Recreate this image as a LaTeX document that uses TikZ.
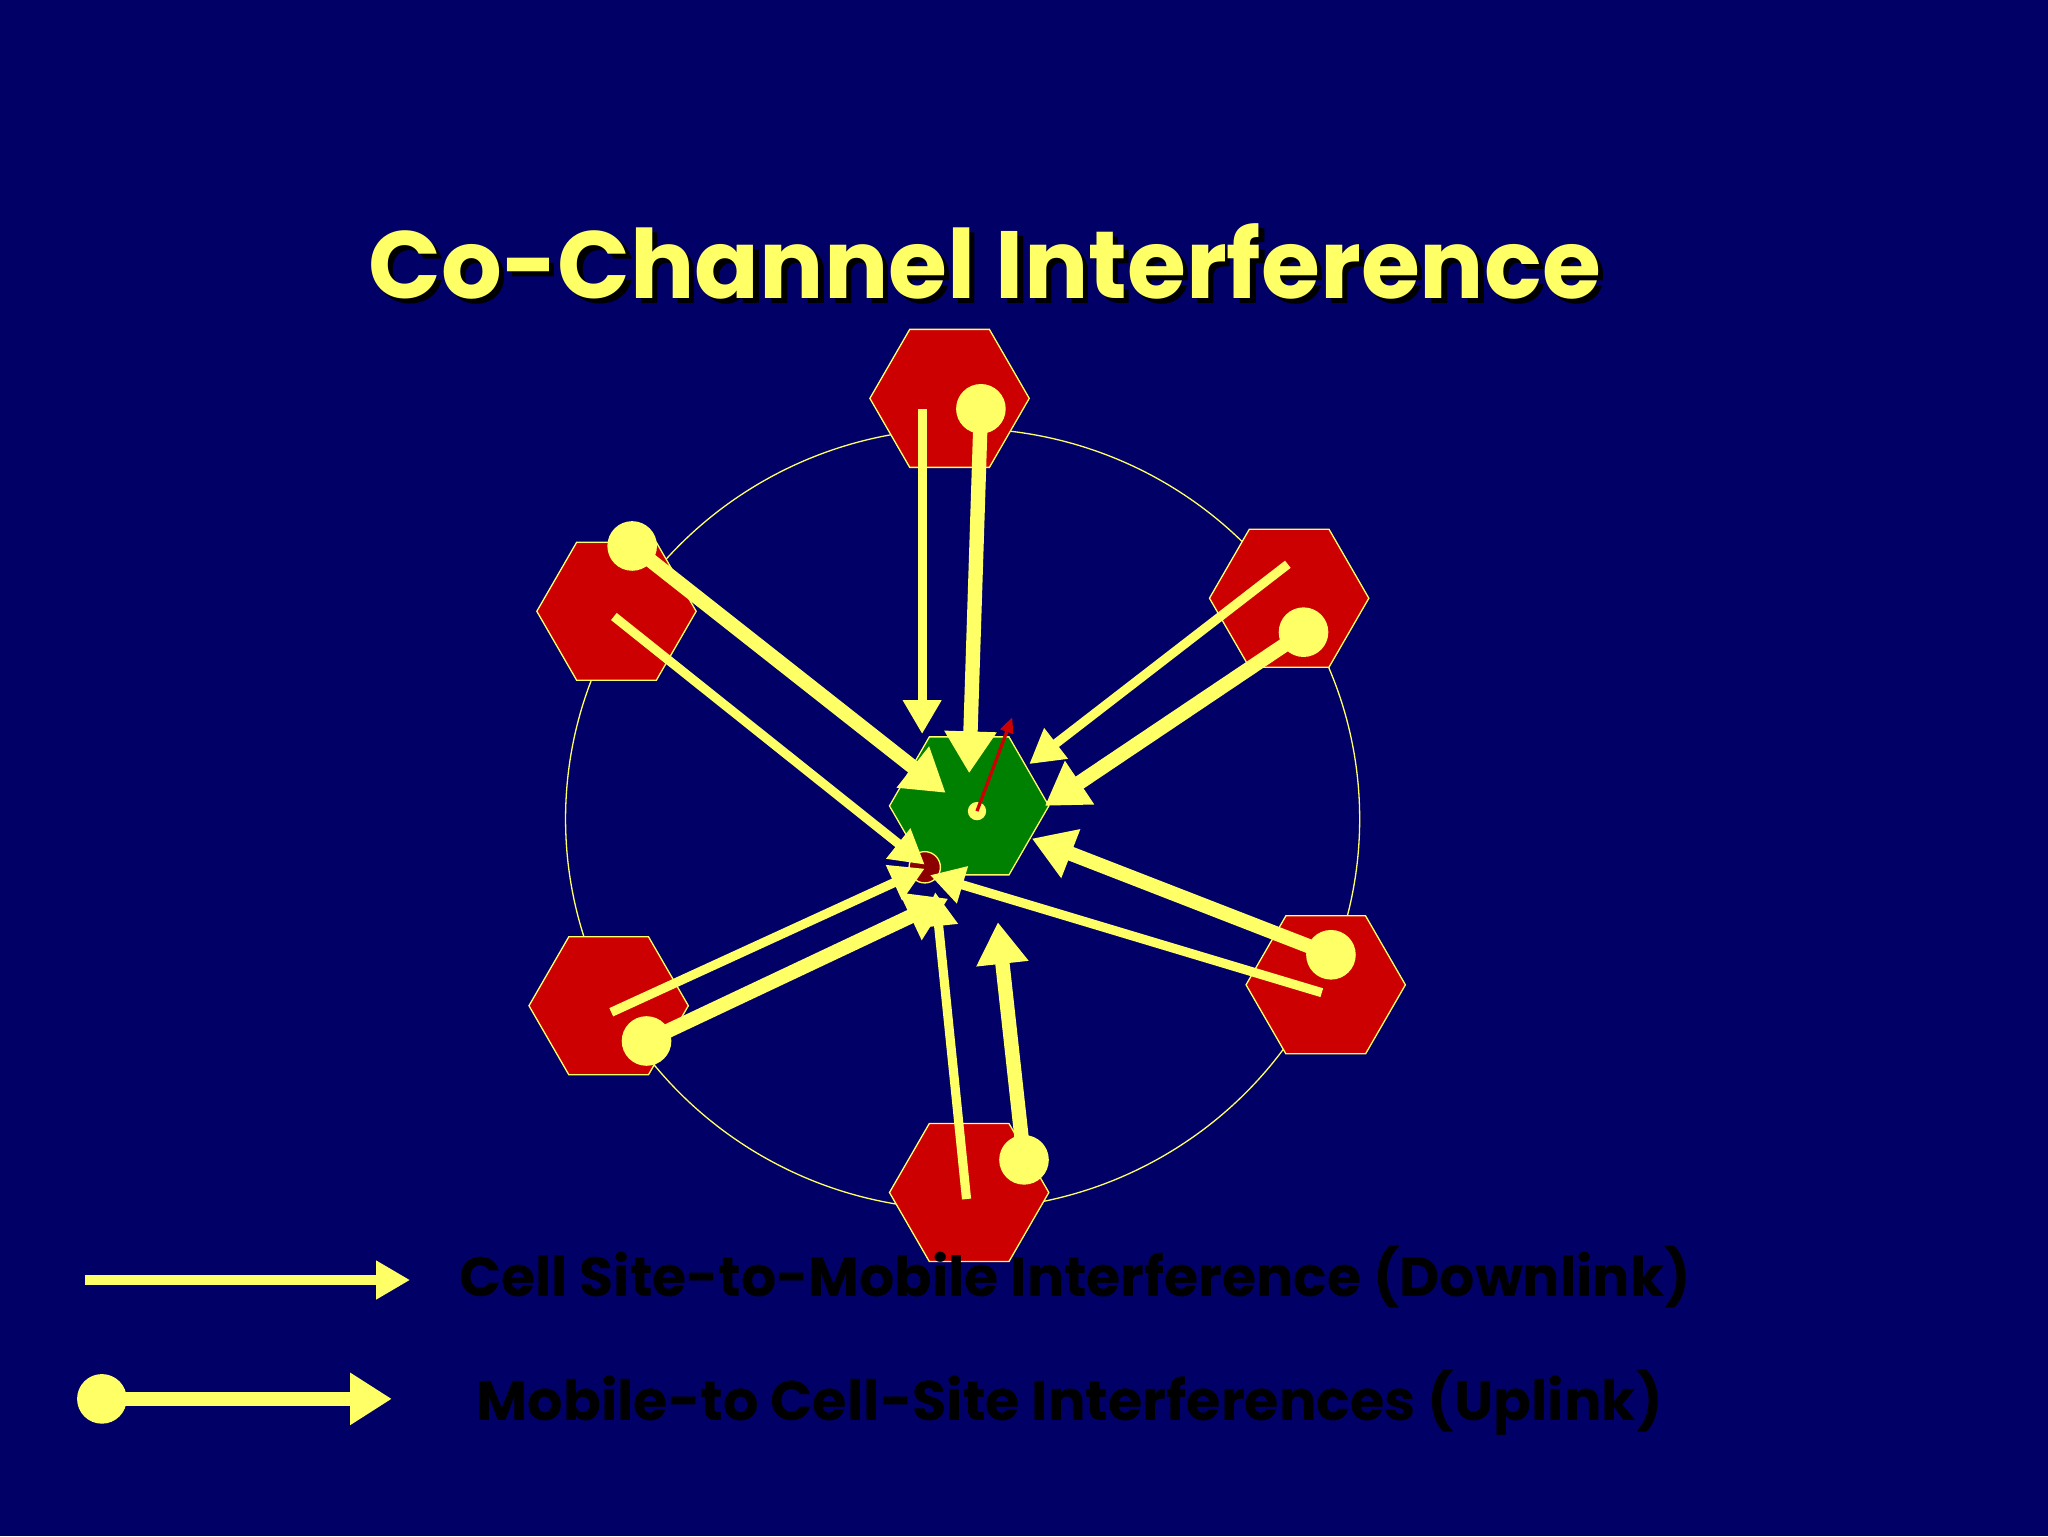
\documentclass[tikz,border=0pt]{standalone}
\usepackage{fontspec}
\setmainfont{Poppins}
\usetikzlibrary{shapes.geometric,arrows.meta}
\definecolor{bg}{RGB}{0,0,102}
\definecolor{yel}{RGB}{255,255,102}
\definecolor{hred}{RGB}{204,0,0}
\definecolor{hgreen}{RGB}{0,128,0}
\begin{document}
\begin{tikzpicture}[x=1pt,y=-1pt,
  hexa/.style={regular polygon,regular polygon sides=6,shape border rotate=0,minimum size=122pt,inner sep=0,draw=yel,line width=1pt},
  down/.style={yel,line width=7pt,-{Triangle[length=26pt,width=28pt]},shorten >=0pt},
  up/.style={yel,line width=11pt,-{Triangle[length=32pt,width=38pt]}},
  dot/.style={circle,fill=yel,minimum size=38pt,inner sep=0},
  lbl/.style={font=\bfseries,text=black}]
\fill[bg] (0,0) rectangle (1568,1176);
\useasboundingbox (0,0) rectangle (1568,1176);
\node (ttls) at (758,204) {\resizebox{943pt}{!}{\bfseries\color{black}Co-Channel Interference}};
\node (ttl) at (754,200) {\resizebox{943pt}{!}{\bfseries\color{yel}Co-Channel Interference}};
\draw[yel,line width=1pt] (737,627) ellipse [x radius=304, y radius=299];
\node[hexa,fill=hred] (h1) at (727,305) {};
\node[hexa,fill=hred] (h2) at (472,468) {};
\node[hexa,fill=hred] (h3) at (987,458) {};
\node[hexa,fill=hred] (h4) at (466,770) {};
\node[hexa,fill=hred] (h5) at (1015,754) {};
\node[hexa,fill=hred] (h6) at (742,913) {};
\node[hexa,fill=hgreen] (hc) at (742,617) {};
\node[circle,fill=yel,minimum size=14pt,inner sep=0] (cs) at (748,621) {};
\node[circle,fill=red!55!black,draw=yel,line width=1pt,minimum size=24pt,inner sep=0] (ms) at (708,664) {};
\coordinate (rt) at (775,549);
\draw[red!80!black,line width=2.5pt,-{Triangle[length=12pt,width=10pt]}] (cs.center) -- (rt);
% downlink
\coordinate (d1) at (706,313); \coordinate (e1) at (706,562);
\coordinate (d2) at (470,472); \coordinate (e2) at (708,662);
\coordinate (d3) at (986,432); \coordinate (e3) at (788,585);
\coordinate (d4) at (468,775); \coordinate (e4) at (708,665);
\coordinate (d5) at (1012,760); \coordinate (e5) at (712,670);
\coordinate (d6) at (740,918); \coordinate (e6) at (716,683);
\foreach \i in {1,...,6} \draw[down] (d\i) -- (e\i);
% uplink
\node[dot] (u1) at (751,313) {}; \coordinate (t1) at (742,592);
\node[dot] (u2) at (484,418) {}; \coordinate (t2) at (724,607);
\node[dot] (u3) at (998,484) {}; \coordinate (t3) at (800,617);
\node[dot] (u4) at (1019,731) {}; \coordinate (t4) at (790,642);
\node[dot] (u5) at (495,797) {}; \coordinate (t5) at (726,688);
\node[dot] (u6) at (784,888) {}; \coordinate (t6) at (764,706);
\foreach \i in {1,...,6} \draw[up] (u\i.center) -- (t\i);
% legend
\coordinate (l1a) at (65,980); \coordinate (l1b) at (314,980);
\draw[yel,line width=7pt,-{Triangle[length=26pt,width=28pt]}] (l1a) -- (l1b);
\node[dot] (l2a) at (78,1071) {}; \coordinate (l2b) at (300,1071);
\draw[up] (l2a.center) -- (l2b);
\node (t1l) at (823,978) {\resizebox{943pt}{!}{\bfseries\color{black}Cell Site-to-Mobile Interference (Downlink)}};
\node (t2l) at (819,1074) {\resizebox{908pt}{!}{\bfseries\color{black}Mobile-to Cell-Site Interferences (Uplink)}};
\end{tikzpicture}
\end{document}
